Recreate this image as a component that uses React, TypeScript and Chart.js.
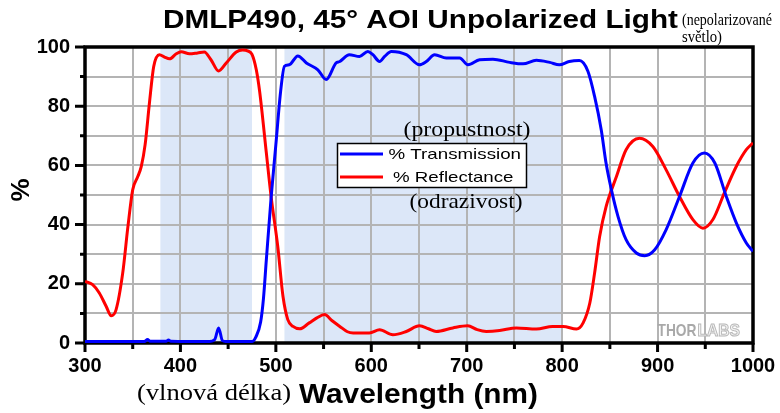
import React, { useEffect, useRef } from "react";
import { Chart, registerables } from "chart.js";

Chart.register(...registerables);

// ---------- texts ----------
const TITLE = "DMLP490, 45° AOI Unpolarized Light";
const TITLE_NOTE = ["(nepolarizované", "světlo)"];
const X_TITLE = "Wavelength (nm)";
const X_TITLE_NOTE = "(vlnová délka)";
const Y_TITLE = "%";
const T_LABEL = "% Transmission";
const R_LABEL = "% Reflectance";
const T_NOTE = "(propustnost)";
const R_NOTE = "(odrazivost)";
const LOGO_A = "THOR";
const LOGO_B = "LABS";

// ---------- axes ----------
const X_MIN = 300;
const X_MAX = 1000;
const X_STEP = 50;
const X_LABEL_STEP = 100;
const Y_MIN = 0;
const Y_MAX = 100;
const Y_STEP = 10;
const Y_LABEL_STEP = 20;

// ---------- shaded wavelength bands (nm) ----------
const bandStart = [379, 509];
const bandEnd = [475, 800];

// ---------- % Transmission ----------
const transWl = [
  300, 330, 360, 363, 365.5, 368, 385, 387.5, 390, 430, 436, 440, 444, 448,
  475, 479, 484, 487, 490, 495, 500, 505, 509, 514, 523, 532, 544, 552.8,
  563, 567, 577, 587.7, 596.4, 601.7, 608.7, 614, 621, 636.7, 650.6, 657.7,
  666.4, 678.6, 692.6, 701.3, 713.5, 727.5, 745, 759, 773, 787, 797, 807.5,
  818, 827, 834, 841, 846, 851.6, 858.5, 867, 877.8, 886.5, 897, 909, 923,
  937, 949, 960, 972, 982.6, 993, 1000,
];
const transVal = [
  0.5, 0.5, 0.5, 0.6, 1.2, 0.6, 0.6, 1.0, 0.6, 0.5, 1.2, 5.1, 0.8, 0.5,
  0.5, 2, 7, 15, 28, 49, 67, 85, 93.5, 94, 97, 94.6, 92.3, 89,
  94.6, 95.1, 97.4, 96.8, 98.5, 97.4, 95.1, 96.8, 98.5, 97.4, 94, 95.1,
  97.4, 96.3, 96.3, 94, 95.7, 95.9, 94.8, 94.3, 95.5, 94.8, 94, 95.1,
  95.4, 91.8, 83.3, 72, 60.8, 51.8, 42.8, 34.9, 30.4, 29.5, 31.5, 38.3, 49.5,
  60.8, 64.2, 60.8, 49.5, 40.5, 33.8, 31,
];

// ---------- % Reflectance ----------
const reflWl = [
  300, 308, 315, 322, 327.5, 332.5, 339.5, 345, 350, 355.4, 359, 363, 367.5,
  372, 378, 383.3, 388.6, 395.6, 400.8, 409.5, 418, 425, 432, 440, 448, 458.5,
  465, 471, 475, 479.5, 483, 490, 495, 502, 507.5, 512.5, 518, 525, 535, 543,
  551, 559, 567, 575, 581, 598, 608.7, 622.6, 636.7, 650.6, 660, 668, 685.5,
  701, 711, 720.5, 734.5, 752, 773, 790, 801, 815, 822, 829, 834, 839.3, 846,
  857, 867, 881, 895, 909, 923, 937, 947.6, 958, 970, 982.6, 993, 1000,
];
const reflVal = [
  20.8, 19.7, 16.9, 12.5, 9.2, 11.2, 23.6, 39.4, 51.8, 56.3, 59.7, 67, 81,
  93.4, 97.4, 96.6, 96, 97.7, 98.4, 97.7, 98, 98.3, 95.7, 91.9, 94.6, 98.3,
  99, 98.6, 97.5, 92.3, 85, 64.3, 49.5, 32.6, 15.7, 7.9, 5.6, 4.8, 6.8, 8.5,
  9.6, 7.5, 5.6, 3.8, 3.4, 3.4, 4.5, 2.8, 3.9, 5.8, 4.8, 3.9, 5.1,
  5.8, 4.5, 3.9, 4.2, 5.1, 4.7, 5.6, 5.6, 4.7, 6.8, 13.5, 23.6, 36, 46,
  56.3, 65.3, 69.2, 66.4, 58.5, 49.5, 41.7, 38.8, 41.7, 50.7, 59.7, 65.3, 67.6,
];

const SANS = "'Liberation Sans', Arial, sans-serif";
const SERIF = "'Liberation Serif', 'Times New Roman', serif";

function drawFit(
  ctx: CanvasRenderingContext2D,
  text: string,
  x: number,
  y: number,
  font: string,
  width: number,
  color: string,
  stroke?: string
) {
  ctx.save();
  ctx.font = font;
  ctx.textAlign = "left";
  ctx.textBaseline = "alphabetic";
  const w = ctx.measureText(text).width || 1;
  ctx.translate(x, y);
  ctx.scale(width / w, 1);
  ctx.fillStyle = color;
  ctx.fillText(text, 0, 0);
  if (stroke) {
    ctx.strokeStyle = stroke;
    ctx.lineWidth = 1;
    ctx.strokeText(text, 0, 0);
  }
  ctx.restore();
}

const decor = {
  id: "decor",
  beforeDraw(chart: any) {
    const { ctx, chartArea } = chart;
    const xs = chart.scales.x;
    ctx.save();
    ctx.fillStyle = "#dce7f8";
    bandStart.forEach((s, i) => {
      const a = xs.getPixelForValue(s);
      const b = xs.getPixelForValue(bandEnd[i]);
      ctx.fillRect(a, chartArea.top, b - a, chartArea.bottom - chartArea.top);
    });
    ctx.restore();
  },
  beforeDatasetsDraw(chart: any) {
    const { ctx, chartArea } = chart;
    const { left, right, top, bottom } = chartArea;
    const xs = chart.scales.x;
    const ys = chart.scales.y;
    ctx.save();
    ctx.strokeStyle = "#000";
    ctx.lineWidth = 3;
    ctx.beginPath();
    xs.ticks.forEach((t: any) => {
      const px = xs.getPixelForValue(t.value);
      const len = t.value % X_LABEL_STEP === 0 ? 9 : 6;
      ctx.moveTo(px, bottom);
      ctx.lineTo(px, bottom + len);
    });
    ys.ticks.forEach((t: any) => {
      const py = ys.getPixelForValue(t.value);
      const len = t.value % Y_LABEL_STEP === 0 ? 10 : 5;
      ctx.moveTo(left, py);
      ctx.lineTo(left - len, py);
    });
    ctx.stroke();
    ctx.lineWidth = 3.5;
    ctx.strokeRect(left, top, right - left, bottom - top);
    ctx.restore();
  },
  afterDraw(chart: any) {
    const { ctx } = chart;
    // title
    drawFit(ctx, TITLE, 163, 28, `bold 25px ${SANS}`, 515, "#000");
    drawFit(ctx, TITLE_NOTE[0], 682, 25, `17px ${SERIF}`, 90, "#000");
    drawFit(ctx, TITLE_NOTE[1], 682, 42, `17px ${SERIF}`, 40, "#000");
    // x axis title
    drawFit(ctx, X_TITLE_NOTE, 137, 400, `24px ${SERIF}`, 154, "#000");
    drawFit(ctx, X_TITLE, 299, 402.5, `bold 27px ${SANS}`, 239, "#000");
    // y axis title
    ctx.save();
    ctx.translate(29, 190);
    ctx.rotate(-Math.PI / 2);
    ctx.font = `bold 26px ${SANS}`;
    ctx.fillStyle = "#000";
    ctx.textAlign = "center";
    ctx.textBaseline = "alphabetic";
    ctx.fillText(Y_TITLE, 0, 0);
    ctx.restore();
    // legend
    const ds = chart.data.datasets;
    ctx.save();
    ctx.fillStyle = "#fff";
    ctx.fillRect(337.5, 143.5, 189, 44);
    ctx.strokeStyle = "#000";
    ctx.lineWidth = 1.5;
    ctx.strokeRect(337.5, 143.5, 189, 44);
    const rowsY = [154, 177];
    ds.forEach((d: any, i: number) => {
      ctx.strokeStyle = d.borderColor;
      ctx.lineWidth = 3;
      ctx.beginPath();
      ctx.moveTo(340, rowsY[i]);
      ctx.lineTo(383, rowsY[i]);
      ctx.stroke();
    });
    ctx.restore();
    drawFit(ctx, ds[0].label, 388.5, 159, `15px ${SANS}`, 132.5, "#000");
    drawFit(ctx, ds[1].label, 393, 182, `15px ${SANS}`, 120.5, "#000");
    drawFit(ctx, T_NOTE, 403.5, 136, `22px ${SERIF}`, 127, "#000");
    drawFit(ctx, R_NOTE, 409.5, 208, `22px ${SERIF}`, 113, "#000");
    // logo
    drawFit(ctx, LOGO_A, 657.5, 336, `bold 17px ${SANS}`, 39, "#a9a9a9");
    drawFit(ctx, LOGO_B, 697.5, 336, `bold 17px ${SANS}`, 42.5, "#f4f4f4", "#b8b8b8");
  },
};

export default function App() {
  const ref = useRef<HTMLCanvasElement | null>(null);
  useEffect(() => {
    if (!ref.current) return;
    Chart.defaults.font.family = SANS;
    const toXY = (xs: number[], ys: number[]) => xs.map((x, i) => ({ x, y: ys[i] }));
    const chart = new Chart(ref.current, {
      type: "line",
      data: {
        datasets: [
          {
            label: T_LABEL,
            data: toXY(transWl, transVal),
            borderColor: "#0000ff",
            borderWidth: 3,
            pointRadius: 0,
            cubicInterpolationMode: "monotone",
            fill: false,
          },
          {
            label: R_LABEL,
            data: toXY(reflWl, reflVal),
            borderColor: "#ff0000",
            borderWidth: 3,
            pointRadius: 0,
            cubicInterpolationMode: "monotone",
            fill: false,
          },
        ],
      },
      options: {
        responsive: false,
        animation: false,
        events: [],
        layout: { padding: { left: 0, top: 47, right: 27, bottom: 0 } },
        plugins: {
          legend: { display: false },
          title: { display: false },
          tooltip: { enabled: false },
        },
        scales: {
          x: {
            type: "linear",
            min: X_MIN,
            max: X_MAX,
            afterFit: (s: any) => {
              s.height = 70;
              s.paddingLeft = 0;
              s.paddingRight = 0;
            },
            ticks: {
              stepSize: X_STEP,
              autoSkip: false,
              maxRotation: 0,
              padding: 11,
              color: "#000",
              font: { family: SANS, size: 20, weight: "bold" },
              callback: (v: any) => (Number(v) % X_LABEL_STEP === 0 ? String(v) : ""),
            },
            grid: { color: "#b4b4b4", lineWidth: 2, drawTicks: false },
            border: { display: false },
          },
          y: {
            type: "linear",
            min: Y_MIN,
            max: Y_MAX,
            afterFit: (s: any) => {
              s.width = 85;
              s.paddingTop = 0;
              s.paddingBottom = 0;
            },
            ticks: {
              stepSize: Y_STEP,
              autoSkip: false,
              padding: 15,
              color: "#000",
              font: { family: SANS, size: 20, weight: "bold" },
              callback: (v: any) => (Number(v) % Y_LABEL_STEP === 0 ? String(v) : ""),
            },
            grid: { color: "#b4b4b4", lineWidth: 2, drawTicks: false },
            border: { display: false },
          },
        },
      } as any,
      plugins: [decor],
    });
    return () => chart.destroy();
  }, []);
  return (
    <div style={{ position: "fixed", left: 0, top: 0, width: 780, height: 413, background: "#fff" }}>
      <canvas ref={ref} width={780} height={413} style={{ display: "block" }} />
    </div>
  );
}
